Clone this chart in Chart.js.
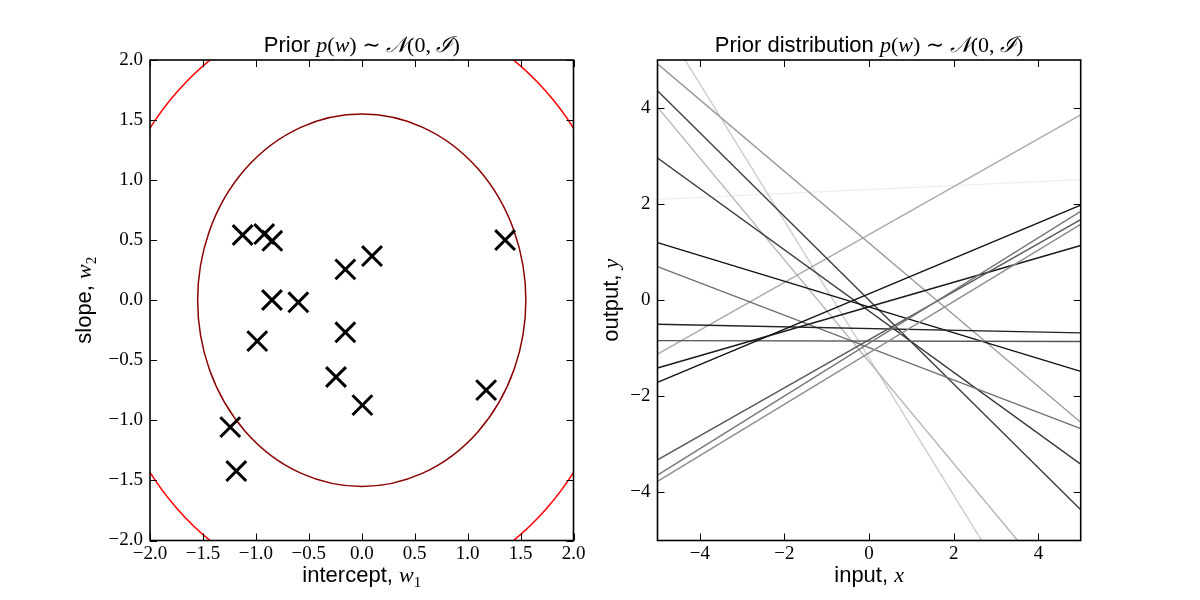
<!DOCTYPE html>
<html>
<head>
<meta charset="utf-8">
<script src="https://cdn.jsdelivr.net/npm/chart.js@4/dist/chart.umd.min.js"></script>
<style>
  html, body { margin: 0; padding: 0; background: #fff; }
  body { width: 1200px; height: 600px; position: relative; overflow: hidden; }
  canvas { position: absolute; top: 0; }
  #priorChart { left: 0; }
  #linesChart { left: 600px; }
</style>
</head>
<body>
<canvas id="priorChart" width="600" height="600"></canvas>
<canvas id="linesChart" width="600" height="600"></canvas>
<script>
// samples w = (w1, w2) drawn from the prior (last one lies outside the left view)
const intercepts = [-1.125, -0.921, -0.845, 0.097, -0.155, -0.848, -0.599, -0.155, -0.987, -0.243, 0.006, 1.175, 1.354, -1.242, -1.185, 2.30];
const slopes = [0.543, 0.551, 0.495, 0.368, 0.257, 0.002, -0.017, -0.267, -0.340, -0.639, -0.873, -0.748, 0.501, -1.056, -1.422, 0.041];

// prior contour radii (data units)
const contourRadii = [1.55, 2.46];
const contourColors = ['#8b0000', '#ff0000'];

// sampled lines: output at input = -5 and input = 5
const lineInputs = [-5, 5];
const outputAtLeft = [-3.77, -3.64, -3.32, -1.71, -1.41, -0.84, -0.50, 1.20, 0.70, 2.96, 4.36, 4.92, -1.12, 4.02, 5.93, 2.10];
const outputAtRight = [1.58, 1.85, 1.68, 1.98, 1.14, -0.86, -0.68, -1.48, -2.67, -3.41, -4.36, -2.54, 3.86, -6.58, -8.34, 2.51];
const lineGrays = ['#8c8c8c', '#777777', '#555555', '#111111', '#1a1a1a', '#555555', '#222222', '#111111',
    '#707070', '#333333', '#404040', '#999999', '#aaaaaa', '#b4b4b4', '#cccccc', '#eeeeee'];

// tick labels
const priorTicks = [-2.0, -1.5, -1.0, -0.5, 0.0, 0.5, 1.0, 1.5, 2.0];
const lineTicks = [-4, -2, 0, 2, 4];

const SANS = '"Liberation Sans", Arial, sans-serif';
const SERIF = '"Liberation Serif", "DejaVu Serif", serif';

function sans(size) { return size + 'px ' + SANS; }
function mathIt(size) { return 'italic ' + size + 'px ' + SERIF; }
function mathRm(size) { return size + 'px ' + SERIF; }

function minus(s) { return s.replace('-', '\u2212'); }

// draw text made of several font runs; parts = [[text, font, dy], ...]
function drawRich(ctx, parts, x, y, rotate) {
    ctx.save();
    ctx.translate(x, y);
    if (rotate) ctx.rotate(-Math.PI / 2);
    let total = 0;
    parts.forEach(p => { ctx.font = p[1]; total += ctx.measureText(p[0]).width; });
    let cx = -total / 2;
    ctx.fillStyle = '#000';
    ctx.textBaseline = 'alphabetic';
    ctx.textAlign = 'left';
    parts.forEach(p => {
        ctx.font = p[1];
        ctx.fillText(p[0], cx, p[2] || 0);
        cx += ctx.measureText(p[0]).width;
    });
    ctx.restore();
}

function titleParts(prefix) {
    return [
        [prefix, sans(22)],
        ['p', mathIt(22)], ['(', mathRm(22)], ['w', mathIt(22)], [') \u223C ', mathRm(22)],
        ['\uD835\uDCA9', mathIt(22)], ['(0, ', mathRm(22)], ['\u2110', mathIt(22)], [')', mathRm(22)]
    ];
}

// frame + inward ticks on all four sides, text labels
function framePlugin(title, xLabel, yLabel, yLabelX) {
    return {
        id: 'frame',
        afterDraw(chart) {
            const ctx = chart.ctx;
            const a = chart.chartArea;
            const xs = chart.scales.x, ys = chart.scales.y;
            ctx.save();
            ctx.strokeStyle = '#000';
            ctx.lineWidth = 1;
            ctx.beginPath();
            xs.ticks.forEach(t => {
                const px = Math.round(xs.getPixelForValue(t.value)) + 0.5;
                ctx.moveTo(px, a.bottom); ctx.lineTo(px, a.bottom - 7);
                ctx.moveTo(px, a.top); ctx.lineTo(px, a.top + 7);
            });
            ys.ticks.forEach(t => {
                const py = Math.round(ys.getPixelForValue(t.value)) + 0.5;
                ctx.moveTo(a.left, py); ctx.lineTo(a.left + 7, py);
                ctx.moveTo(a.right, py); ctx.lineTo(a.right - 7, py);
            });
            ctx.stroke();
            ctx.lineWidth = 1.6;
            ctx.strokeRect(a.left, a.top, a.right - a.left, a.bottom - a.top);
            ctx.restore();

            const midX = (a.left + a.right) / 2;
            const midY = (a.top + a.bottom) / 2;
            drawRich(ctx, title, midX, 52, false);
            drawRich(ctx, xLabel, midX, 582, false);
            drawRich(ctx, yLabel, yLabelX, midY, true);
        }
    };
}

// prior contours, drawn through the scales
const contourPlugin = {
    id: 'contours',
    beforeDatasetsDraw(chart) {
        const ctx = chart.ctx;
        const a = chart.chartArea;
        const xs = chart.scales.x, ys = chart.scales.y;
        const cx = xs.getPixelForValue(0), cy = ys.getPixelForValue(0);
        ctx.save();
        ctx.beginPath();
        ctx.rect(a.left, a.top, a.right - a.left, a.bottom - a.top);
        ctx.clip();
        contourRadii.forEach((r, i) => {
            const rx = xs.getPixelForValue(r) - cx;
            const ry = cy - ys.getPixelForValue(r);
            ctx.beginPath();
            ctx.ellipse(cx, cy, rx, ry, 0, 0, Math.PI * 2);
            ctx.strokeStyle = contourColors[i];
            ctx.lineWidth = 1.5;
            ctx.stroke();
        });
        ctx.restore();
    }
};

function axis(min, max, ticks, fmt, isY, size, pad) {
    return {
        type: 'linear',
        min: min,
        max: max,
        grid: { display: false, drawTicks: false },
        border: { display: false },
        afterBuildTicks: s => { s.ticks = ticks.map(v => ({ value: v })); },
        afterFit: s => { if (isY) s.width = size; else s.height = size; },
        ticks: {
            color: '#000',
            padding: pad,
            maxRotation: 0,
            autoSkip: false,
            font: { family: SERIF, size: 19 },
            callback: v => minus(fmt(v))
        }
    };
}

const priorPoints = intercepts.map((w1, i) => ({ x: w1, y: slopes[i] }));

new Chart(document.getElementById('priorChart'), {
    type: 'scatter',
    data: {
        datasets: [{
            data: priorPoints,
            pointStyle: 'crossRot',
            pointRadius: 14,
            pointHoverRadius: 14,
            pointBorderWidth: 3,
            pointBorderColor: '#000',
            pointBackgroundColor: '#000'
        }]
    },
    options: {
        responsive: false,
        animation: false,
        layout: { padding: { left: 90, right: 26.5, top: 60, bottom: 29.5 } },
        plugins: { legend: { display: false }, tooltip: { enabled: false } },
        scales: {
            x: axis(-2, 2, priorTicks, v => v.toFixed(1), false, 30, 2),
            y: axis(-2, 2, priorTicks, v => v.toFixed(1), true, 60, 7)
        }
    },
    plugins: [contourPlugin, framePlugin(
        titleParts('Prior '),
        [['intercept, ', sans(22)], ['w', mathIt(22)], ['1', mathRm(15), 5]],
        [['slope, ', sans(22)], ['w', mathIt(22)], ['2', mathRm(15), 5]],
        91
    )]
});

const lineSets = outputAtLeft.map((y0, i) => ({
    data: [{ x: lineInputs[0], y: y0 }, { x: lineInputs[1], y: outputAtRight[i] }],
    borderColor: lineGrays[i],
    borderWidth: 1.4,
    pointRadius: 0,
    fill: false
}));

new Chart(document.getElementById('linesChart'), {
    type: 'line',
    data: { datasets: lineSets },
    options: {
        responsive: false,
        animation: false,
        layout: { padding: { left: 27.5, right: 119.3, top: 60, bottom: 29.5 } },
        plugins: { legend: { display: false }, tooltip: { enabled: false } },
        scales: {
            x: axis(-5, 5, lineTicks, v => String(v), false, 30, 2),
            y: axis(-5, 5, lineTicks, v => String(v), true, 30, 7)
        }
    },
    plugins: [framePlugin(
        titleParts('Prior distribution '),
        [['input, ', sans(22)], ['x', mathIt(22)]],
        [['output, ', sans(22)], ['y', mathIt(22)]],
        18
    )]
});
</script>
</body>
</html>
